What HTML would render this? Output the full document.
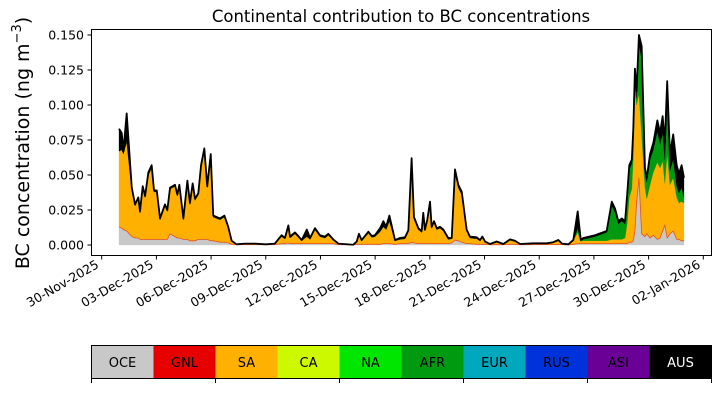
<!DOCTYPE html>
<html><head><meta charset="utf-8">
<style>
html,body{margin:0;padding:0;background:#fff;}
svg{display:block;font-family:"DejaVu Sans","Liberation Sans",sans-serif;}
</style></head>
<body>
<svg id="chart" width="721" height="402" viewBox="0 0 721 402" xmlns="http://www.w3.org/2000/svg">
<text x="401" y="22" text-anchor="middle" font-size="16.5">Continental contribution to BC concentrations</text>
<text transform="translate(29,143) rotate(-90)" text-anchor="middle" font-size="19">BC concentration (ng m<tspan dy="-8" font-size="13">−3</tspan><tspan dy="8">)</tspan></text>
<g id="stack"></g>
<g id="yticks"></g>
<g id="xticks"></g>
<rect x="91.5" y="29.5" width="620" height="226" fill="none" stroke="#000" stroke-width="1"/>
<g id="cbar"></g>
</svg>
<script>
// days since 30-Nov-2025
const times=[0.95,1.10,1.19,1.37,1.65,1.83,2.01,2.10,2.25,2.38,2.56,2.74,2.87,3.02,3.20,3.47,3.60,3.75,4.02,4.15,4.26,4.48,4.70,4.84,4.99,5.12,5.30,5.45,5.63,5.79,5.98,6.12,6.49,6.73,6.94,7.13,7.40,7.86,8.41,9.00,9.50,9.87,10.05,10.24,
10.33,10.60,10.78,10.97,11.25,11.43,11.70,11.97,12.25,12.43,12.70,12.98,13.80,13.99,14.11,14.26,14.63,14.81,14.99,15.27,15.45,15.60,15.78,16.09,16.36,16.64,16.82,17.00,17.13,17.37,17.55,17.64,17.73,17.86,18.01,18.10,18.23,18.38,18.56,18.74,19.01,19.20,19.38,19.56,19.75,20.02,20.20,20.57,20.75,20.88,21.03,21.30,21.67,22.03,22.40,22.67,22.95,23.68,24.41,24.77,25.05,
25.25,25.60,25.87,26.11,26.28,26.42,27.06,27.70,27.98,28.16,28.34,28.53,28.71,28.83,28.94,29.08,29.16,29.25,29.34,29.47,29.62,29.80,29.90,30.08,30.26,30.48,30.63,30.77,30.89,31.02,31.17,31.35,31.54,31.67,31.81,31.94];
// values in 1e-3 ng m^-3
const oce=[13,12,11,10,6,5,5,4,4,4,4,4,4,4,4,4,4,8,6,5,5,4,4,3,3,3,4,4,4,4,3,3,2,2,1.5,0.5,0.2,0.3,0.3,0.2,0.3,1,1,1.5,
1,1,1,1,1,1,1,1,1,1,1,0.3,0.1,0.5,0.5,0.5,0.5,0.5,0.5,0.5,1,1,1,0.5,1,1,1,2,1.5,1,1,1,1,1,1,1,1,1,1,1,1,1.5,3.5,3,2,1,1,0.5,0.5,0.5,0.5,0.2,0.3,0.2,0.5,0.5,0.2,0.3,0.3,0.3,0.3,
0.3,0.1,0.5,1,1,1,1,1,1,1,1,1,1,1,2,2,3,10,30,48,8,6,8,5,7,4,5,10,14,5,8,10,4,4,3,3,3];
const sa=[54,56,54,64,33,23,28,19,37,30,46,51,34,34,14,24,20,32,36,30,37,14,41,26,40,29,32,51,63,37,60,17,16,18,11,2,0.2,0.5,0.5,0.2,0.5,5,3.5,11,
4,7,4.5,2,5,3,10,5,4,6,2.5,0.5,0.05,1.5,6.5,2.5,8,5,5.5,9,12,10,16,2.5,3,3.5,8.5,55,17,10,8,20,9,16,26,11,15,10,11,9,3,3,48,38,34,9,4,4,2.5,4.5,1.5,0.3,1.7,0.3,3,2,0.3,0.6,0.6,1.4,2.8,
0.5,0.3,2.5,8,1.6,2,2,2,3,3,3,3,4,15,32,38,60,100,70,60,70,35,25,38,45,55,50,50,30,60,35,38,30,26,28,27];
const afr=[0,0,0,0,0,0,0,0,0,0,0,0,0,0,0,0,0,0,0,0,0,0,0,0,0,0,0,0,0,0,0,0,0,0,0,0,0,0,0,0,0,0,0,0,
0,0,0,0,0,0,0,0,0,0,0,0,0,0,0,0,0,0,0,0,0,0,0,0,0,0,0,0,0,0,0,0,0,0,0,0,0,0,0,0,0,0,0,0,0,0,0,0,0,0,0,0,0,0,0,0,0,0,0,0,0,
0,0,0,3,0.5,1,3,6,24,19,11,13,10,18,20,18,15,10,5,35,55,10,12,18,16,22,17,20,17,35,10,13,8,7,10,4];
const aus=[16,12,2,20,2,1,1,1,1,1,2,2,1,1,1,1,1,1,1,1,1,1,1,1,1,1,1,2,2,1,2,1,1,1,0.5,0.5,0.1,0.2,0.2,0.1,0.2,1,0.5,1.5,
1,1,1,0.5,5,1,1,1,1,1,0.5,0.2,0.05,0.5,1,0.5,1,1,1,2.5,4,2,4,0.5,1,1,1,5,1.5,1,1,2,1,1,4,1,1,1,1,1,1,0.5,2.5,2,2,1,1,1,0.5,1,0.5,0.2,0.5,0.2,0.5,0.5,0.2,0.3,0.3,0.3,0.5,
0.2,0.1,0.6,12,0.5,1,1,1,3,3,2,2,2,3,3,3,5,6,5,7,9,4,3,4,5,8,8,12,12,17,12,18,15,14,16,14];
const yTickLabels=["0.000","0.025","0.050","0.075","0.100","0.125","0.150"];
const xTickLabels=["30-Nov-2025","03-Dec-2025","06-Dec-2025","09-Dec-2025","12-Dec-2025","15-Dec-2025","18-Dec-2025","21-Dec-2025","24-Dec-2025","27-Dec-2025","30-Dec-2025","02-Jan-2026"];
const regionNames=["OCE","GNL","SA","CA","NA","AFR","EUR","RUS","ASI","AUS"];
const regionColors=["#c8c8c8","#e60000","#ffb000","#ccf800","#00e600","#009a10","#00a8be","#0032dc","#6a0096","#000000"];

const NS="http://www.w3.org/2000/svg";
const xs=d=>101.7+18.23*d;
const ys=v=>245-v*1.4;
function mk(tag,attrs,parent){const e=document.createElementNS(NS,tag);for(const k in attrs)e.setAttribute(k,attrs[k]);parent.appendChild(e);return e;}
const stack=document.getElementById('stack');
const layers=[[oce,"#c8c8c8","oce-area"],[sa,"#ffb000","sa-area"],[afr,"#009a10","afr-area"],[aus,"#000000","aus-area"]];
let base=times.map(()=>0);
layers.forEach(([arr,col,name])=>{
  const top=base.map((b,i)=>b+arr[i]);
  let d="M"+times.map((t,i)=>xs(t).toFixed(2)+","+ys(top[i]).toFixed(2)).join("L");
  for(let i=times.length-1;i>=0;i--)d+="L"+xs(times[i]).toFixed(2)+","+ys(base[i]).toFixed(2);
  const p=mk('path',{d:d+"Z",fill:col,stroke:col,"stroke-width":0.3},stack);
  
  
  base=top;
});
const gl=mk('path',{d:"M"+times.map((t,i)=>xs(t).toFixed(2)+","+ys(oce[i]).toFixed(2)).join("L"),fill:"none",stroke:"#e8501a","stroke-width":0.8},stack);


const tl=mk('path',{d:"M"+times.map((t,i)=>xs(t).toFixed(2)+","+ys(base[i]).toFixed(2)).join("L"),fill:"none",stroke:"#000","stroke-width":1.8,"stroke-linejoin":"round"},stack);



const yt=document.getElementById('yticks');
yTickLabels.forEach((lab)=>{
  const y=ys(parseFloat(lab)*1000);
  const l=mk('line',{x1:87.5,x2:91.5,y1:y,y2:y,stroke:"#000"},yt);
  
  
  const t=mk('text',{x:84,y:y+4.5,"text-anchor":"end","font-size":12.5},yt);
  t.textContent=lab;
  
  
});
const xt=document.getElementById('xticks');
xTickLabels.forEach((lab,i)=>{
  const x=xs(i*3);
  const l=mk('line',{x1:x,x2:x,y1:255.5,y2:259.5,stroke:"#000"},xt);
  
  
  const t=mk('text',{transform:`translate(${x-2},${267}) rotate(-30)`,"text-anchor":"end","font-size":12.5},xt);
  t.textContent=lab;
  
  
});
const cb=document.getElementById('cbar');
const cw=62;
regionNames.forEach((n,i)=>{
  const x=91.5+i*cw;
  const r=mk('rect',{x:x,y:345.5,width:cw,height:33,fill:regionColors[i]},cb);
  
  
  const t=mk('text',{x:x+cw/2,y:367,"text-anchor":"middle","font-size":13,fill:n==="AUS"?"#fff":"#000"},cb);
  t.textContent=n;
  
  
});
const fr=mk('rect',{x:91.5,y:345.5,width:620,height:33,fill:"none",stroke:"#000"},cb);


[0,2,4,6,8,10].forEach(k=>{
  const x=91.5+k*cw;
  const l=mk('line',{x1:x,x2:x,y1:378.5,y2:383,stroke:"#000"},cb);
  
  
});
</script>
</body></html>
